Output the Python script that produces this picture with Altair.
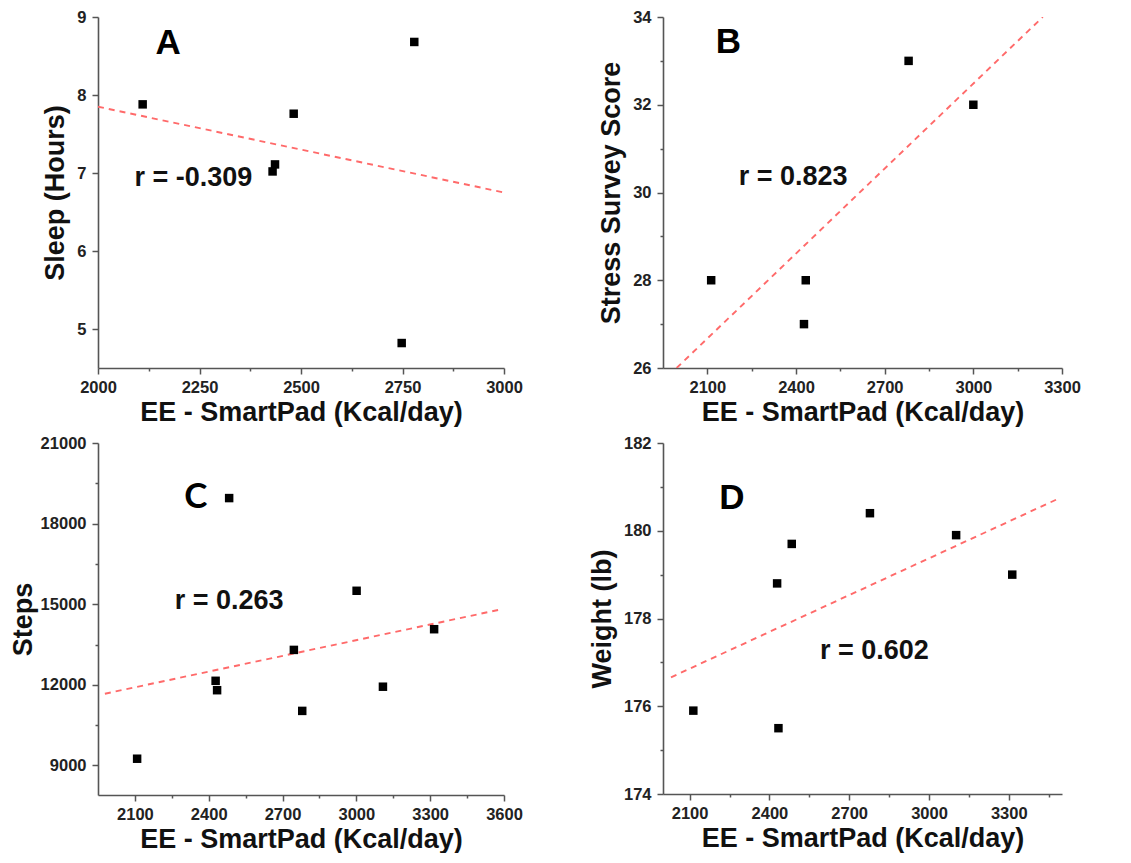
import altair as alt
import pandas as pd

# ---------------- data ----------------
x_title = "EE - SmartPad (Kcal/day)"

# Panel A: Sleep
ee_a = [2110, 2430, 2436, 2482, 2748, 2779]
sleep_hours = [7.88, 7.02, 7.11, 7.76, 4.82, 8.68]
fit_a_x = [2000, 3000]
fit_a_y = [7.85, 6.75]

# Panel B: Stress
ee_b = [2113, 2427, 2433, 2781, 3000]
stress_score = [28, 27, 28, 33, 32]
fit_b_x = [1996, 3235]
fit_b_y = [26.0, 34.0]

# Panel C: Steps
ee_c = [2109, 2428, 2434, 2483, 2746, 2780, 3001, 3108, 3316]
steps = [9250, 12150, 11800, 18950, 13300, 11030, 15500, 11930, 14070]
fit_c_x = [1978, 3576]
fit_c_y = [11670, 14785]

# Panel D: Weight
ee_d = [2114, 2429, 2434, 2484, 2778, 3102, 3313]
weight_lb = [175.9, 178.8, 175.5, 179.7, 180.4, 179.9, 179.0]
fit_d_x = [2030, 3493]
fit_d_y = [176.66, 180.75]

panel_letters = ["A", "B", "C", "D"]
r_labels = ["r = -0.309", "r = 0.823", "r = 0.263", "r = 0.602"]
y_titles = ["Sleep (Hours)", "Stress Survey Score", "Steps", "Weight (lb)"]

# axis tick values (major, minor)
a_xmaj = [2000, 2250, 2500, 2750, 3000]
a_xmin = [2125, 2375, 2625, 2875]
a_ymaj = [5, 6, 7, 8, 9]
a_ymin = [5.5, 6.5, 7.5, 8.5]
b_xmaj = [2100, 2400, 2700, 3000, 3300]
b_xmin = [2250, 2550, 2850, 3150]
b_ymaj = [26, 28, 30, 32, 34]
b_ymin = [27, 29, 31, 33]
c_xmaj = [2100, 2400, 2700, 3000, 3300, 3600]
c_xmin = [2250, 2550, 2850, 3150, 3450]
c_ymaj = [9000, 12000, 15000, 18000, 21000]
c_ymin = [10500, 13500, 16500, 19500]
d_xmaj = [2100, 2400, 2700, 3000, 3300]
d_xmin = [2250, 2550, 2850, 3150, 3450]
d_ymaj = [174, 176, 178, 180, 182]
d_ymin = [175, 177, 179, 181]

FONT = "Liberation Sans"
LINE_RED = "#ff6a6a"


def make_axis(major, minor, mod, title, label_pad, title_pad):
    return alt.Axis(
        values=sorted(major + minor),
        format="d",
        labelExpr=f"datum.value % {mod} === 0 ? datum.label : ''",
        tickSize={"condition": {"test": f"datum.value % {mod} === 0", "value": 6}, "value": 3},
        title=title,
        labelPadding=label_pad,
        titlePadding=title_pad,
    )


def panel(xs, ys, fx, fy, xdom, ydom, xmaj, xmin, xmod, ymaj, ymin, ymod,
          ytitle, letter, letter_xy, letter_font, rtext, r_xy, w, h, ytp=7):
    pts = pd.DataFrame({"x": xs, "y": ys})
    fit = pd.DataFrame({"x": fx, "y": fy})
    lt = pd.DataFrame({"x": [letter_xy[0]], "y": [letter_xy[1]], "t": [letter]})
    rt = pd.DataFrame({"x": [r_xy[0]], "y": [r_xy[1]], "t": [rtext]})

    xs_ = alt.Scale(domain=xdom, nice=False, zero=False)
    ys_ = alt.Scale(domain=ydom, nice=False, zero=False)

    points = alt.Chart(pts).mark_square(size=72, color="black", opacity=1).encode(
        x=alt.X("x:Q", scale=xs_, axis=make_axis(xmaj, xmin, xmod, x_title, 5, 4)),
        y=alt.Y("y:Q", scale=ys_, axis=make_axis(ymaj, ymin, ymod, ytitle, 6, ytp)),
    )
    line = alt.Chart(fit).mark_line(
        color=LINE_RED, strokeDash=[6, 5], strokeWidth=1.9, clip=True
    ).encode(x=alt.X("x:Q", scale=xs_), y=alt.Y("y:Q", scale=ys_))
    ltext = alt.Chart(lt).mark_text(
        font=letter_font, fontSize=35, fontWeight="bold", color="black",
        align="center", baseline="middle"
    ).encode(x=alt.X("x:Q", scale=xs_), y=alt.Y("y:Q", scale=ys_), text="t:N")
    rlabel = alt.Chart(rt).mark_text(
        font=FONT, fontSize=27, fontWeight="bold", color="#111",
        align="left", baseline="middle"
    ).encode(x=alt.X("x:Q", scale=xs_), y=alt.Y("y:Q", scale=ys_), text="t:N")
    return alt.layer(line, points, ltext, rlabel).properties(width=w, height=h)


pa = panel(ee_a, sleep_hours, fit_a_x, fit_a_y, [2000, 3000], [4.5, 9],
           a_xmaj, a_xmin, 250, a_ymaj, a_ymin, 1, y_titles[0],
           panel_letters[0], (2173, 8.67), FONT, r_labels[0], (2090, 6.94), 406, 351)
pb = panel(ee_b, stress_score, fit_b_x, fit_b_y, [1950, 3300], [26, 34],
           b_xmaj, b_xmin, 300, b_ymaj, b_ymin, 2, y_titles[1],
           panel_letters[1], (2171, 33.43), FONT, r_labels[1], (2206, 30.35), 399, 351)
pc = panel(ee_c, steps, fit_c_x, fit_c_y, [1950, 3600], [7900, 21000],
           c_xmaj, c_xmin, 300, c_ymaj, c_ymin, 3000, y_titles[2],
           panel_letters[2], (2348, 19000), "Lato", r_labels[2], (2262, 15105), 406, 352, ytp=3)
pd_ = panel(ee_d, weight_lb, fit_d_x, fit_d_y, [2000, 3500], [174, 182],
            d_xmaj, d_xmin, 300, d_ymaj, d_ymin, 2, y_titles[3],
            panel_letters[3], (2259, 180.74), FONT, r_labels[3], (2590, 177.27), 399, 351)

chart = alt.concat(pa, pb, pc, pd_, columns=2, spacing=alt.RowColnumber(row=9, column=65)).properties(
    padding={"left": 1, "top": 1, "right": 0, "bottom": 0}
).configure_view(stroke=None).configure_axis(
    grid=False,
    labelFont=FONT, labelFontSize=16.5, labelFontWeight="bold", labelColor="#222",
    titleFont=FONT, titleFontSize=27, titleFontWeight="bold", titleColor="#111",
    domainColor="#555", tickColor="#555", domainWidth=1.6, tickWidth=1.5,
    labelFlush=False, labelOverlap=False,
)

chart.save("out.html", embed_options={"renderer": "svg", "actions": False})
